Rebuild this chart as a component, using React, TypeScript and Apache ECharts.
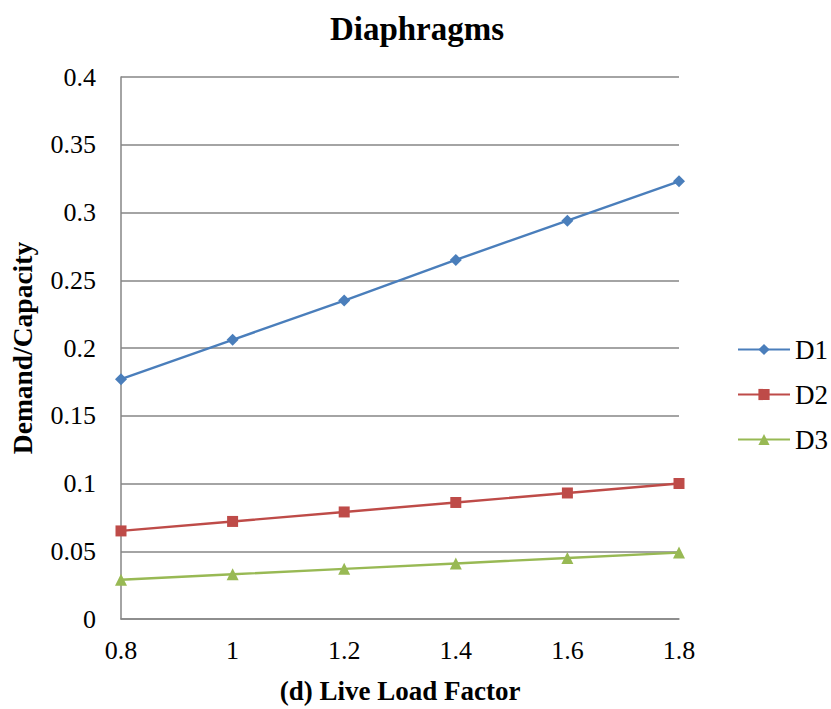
import React, { useEffect, useRef } from "react";
import * as echarts from "echarts";

const liveLoadFactors = [0.8, 1.0, 1.2, 1.4, 1.6, 1.8];
const d1 = [0.177, 0.206, 0.235, 0.265, 0.294, 0.323];
const d2 = [0.065, 0.072, 0.079, 0.086, 0.093, 0.1];
const d3 = [0.029, 0.033, 0.037, 0.041, 0.045, 0.049];
const seriesNames = ["D1", "D2", "D3"];
const seriesColors = ["#4A7EBB", "#BE4B48", "#98B954"];
const seriesSymbols = ["diamond", "rect", "triangle"];
const symbolSizes = [12, 11, 12];

const FONT = "Liberation Serif";

const trimNumber = (v: number) => String(parseFloat(v.toFixed(2)));

export default function App() {
  const ref = useRef<HTMLDivElement>(null);

  useEffect(() => {
    if (!ref.current) return;
    const chart = echarts.init(ref.current, undefined, { renderer: "svg" });
    const values = [d1, d2, d3];
    chart.setOption({
      animation: false,
      backgroundColor: "#ffffff",
      textStyle: { fontFamily: FONT },
      title: {
        text: "Diaphragms",
        left: 412,
        textAlign: "center",
        top: 7,
        textStyle: { fontFamily: FONT, fontSize: 33, fontWeight: "bold", color: "#000" },
      },
      grid: { left: 120, right: 152, top: 77, bottom: 88, containLabel: false },
      legend: {
        orient: "vertical",
        left: 737,
        top: 336,
        padding: 0,
        itemGap: 18,
        itemWidth: 52,
        itemHeight: 14,
        textStyle: { fontFamily: FONT, fontSize: 27, color: "#000" },
        data: seriesNames,
      },
      xAxis: {
        type: "value",
        min: 0.8,
        max: 1.8,
        interval: 0.2,
        name: "(d) Live Load Factor",
        nameLocation: "middle",
        nameGap: 58,
        nameTextStyle: { fontFamily: FONT, fontSize: 27, fontWeight: "bold", color: "#000" },
        axisLine: { show: true, lineStyle: { color: "#868686", width: 1.5 } },
        axisTick: { show: false },
        splitLine: { show: false },
        axisLabel: {
          fontFamily: FONT,
          fontSize: 26,
          color: "#000",
          margin: 18,
          formatter: trimNumber,
        },
      },
      yAxis: {
        type: "value",
        min: 0,
        max: 0.4,
        interval: 0.05,
        name: "Demand/Capacity",
        nameLocation: "middle",
        nameGap: 85,
        nameRotate: 90,
        nameTextStyle: { fontFamily: FONT, fontSize: 27.5, fontWeight: "bold", color: "#000" },
        axisLine: { show: true, lineStyle: { color: "#868686", width: 1.5 } },
        axisTick: { show: false },
        splitLine: { show: true, lineStyle: { color: "#868686", width: 1.5 } },
        axisLabel: {
          fontFamily: FONT,
          fontSize: 26,
          color: "#000",
          margin: 25,
          formatter: trimNumber,
        },
      },
      series: seriesNames.map((name, i) => ({
        name,
        type: "line",
        data: liveLoadFactors.map((x, j) => [x, values[i][j]]),
        symbol: seriesSymbols[i],
        symbolSize: symbolSizes[i],
        showSymbol: true,
        lineStyle: { color: seriesColors[i], width: 2.4 },
        itemStyle: { color: seriesColors[i] },
        clip: false,
      })),
    });
    return () => chart.dispose();
  }, []);

  return (
    <div
      ref={ref}
      style={{ position: "absolute", left: 0, top: 0, width: 831, height: 709 }}
    />
  );
}
